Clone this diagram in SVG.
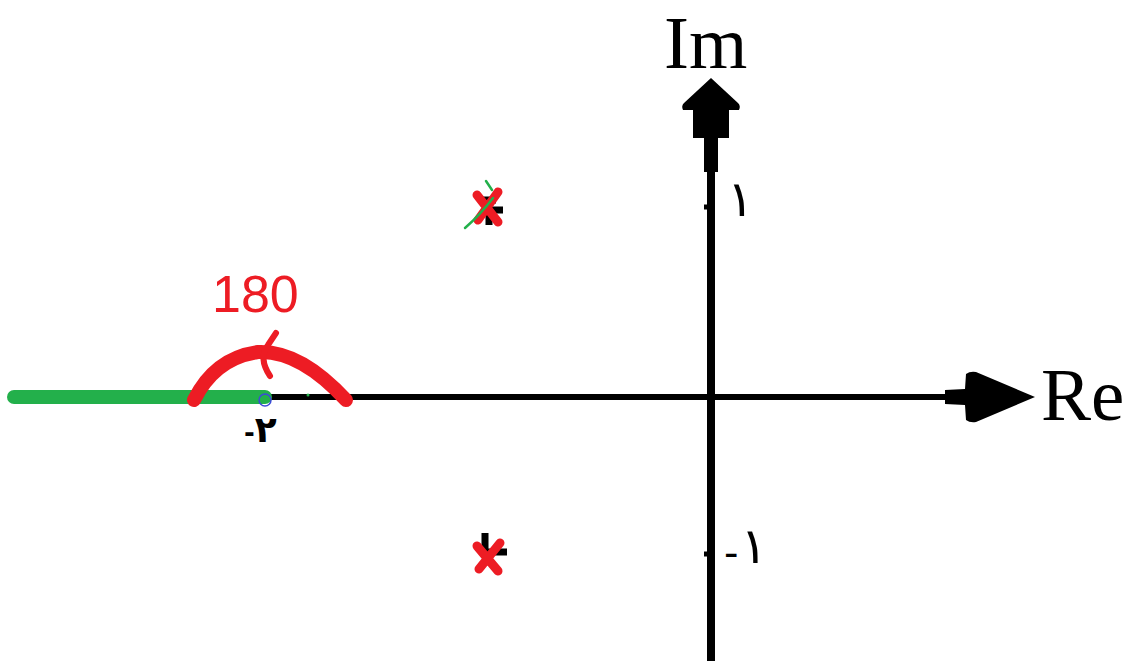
<svg xmlns="http://www.w3.org/2000/svg" width="1129" height="661" viewBox="0 0 1129 661">
<style>
.lbl{font-family:"Liberation Serif","Times New Roman",serif;fill:#000}
.ar{font-family:"DejaVu Sans","Noto Sans",sans-serif;fill:#000}
.red{stroke:#ed1c24;fill:none;stroke-linecap:round;stroke-linejoin:round}
</style>
<rect width="1129" height="661" fill="#fff"/>
<g id="connectors">
  <line x1="260" y1="397" x2="950" y2="397" stroke="#000" stroke-width="6"/>
  <line x1="711" y1="140" x2="711" y2="661" stroke="#000" stroke-width="8"/>
  <path d="M704 172 L704 138 L693 138 L693 110 L683 110 Q681 106 684 103 L711 78 L738 103 Q741 106 739 110 L729 110 L729 138 L718 138 L718 172 Z" fill="#000"/>
  <path d="M945 390 L965 389 L966 374 Q970 371 976 372 L1035 397 L976 422 Q970 423 966 420 L965 405 L945 404 Z" fill="#000"/>
  <line x1="704" y1="207" x2="708" y2="207" stroke="#000" stroke-width="5"/>
  <line x1="704" y1="554" x2="708" y2="554" stroke="#000" stroke-width="5"/>
  <line x1="486" y1="397" x2="490" y2="397" stroke="#000" stroke-width="6"/>
  <line x1="14" y1="397" x2="265" y2="397" stroke="#23b04b" stroke-width="14" stroke-linecap="round"/>
  <circle cx="308" cy="395" r="1.5" fill="#23b04b"/>
</g>
<g id="axis-labels">
  <text class="lbl" x="664" y="68" font-size="75">Im</text>
  <text class="lbl" x="1041" y="420" font-size="75">Re</text>
  <text class="ar" x="727" y="216" font-size="50">١</text>
  <text class="ar" x="724" y="563"><tspan font-size="40" dy="4">-</tspan><tspan font-size="50" dx="2" dy="-4">١</tspan></text>
  <text class="ar" x="244" y="442"><tspan font-size="26" font-weight="bold">-</tspan><tspan font-size="36" font-weight="bold">٢</tspan></text>
</g>
<g id="pole-upper">
  <path d="M482 200 L496 200 M489 200 L489 225 M482 210 L503 210" stroke="#000" stroke-width="7" fill="none"/>
  <path class="red" d="M477 195 L498 222 M498 192 L478 220" stroke-width="9"/>
  <path d="M465 228 Q480 215 493 198 M486 181 L492 190" stroke="#23b04b" stroke-width="2.5" fill="none" stroke-linecap="round"/>
</g>
<g id="pole-lower">
  <path d="M485 533 L485 552 L507 552" stroke="#000" stroke-width="7" fill="none"/>
  <path class="red" d="M477 546 L498 571 M500 543 L479 569" stroke-width="9"/>
</g>
<g id="zero">
  <circle cx="265" cy="400" r="6" fill="none" stroke="#3b4bd8" stroke-width="1.5"/>
</g>
<g id="angle">
  <path class="red" d="M194 400 Q215 358 258 352 Q300 350 346 400" stroke-width="14"/>
  <path class="red" d="M276 333 L268 345 Q258 358 270 376" stroke-width="6"/>
  <text x="212" y="312" font-size="52" font-family="Liberation Sans, Arial, sans-serif" fill="#ed1c24">180</text>
</g>
</svg>
